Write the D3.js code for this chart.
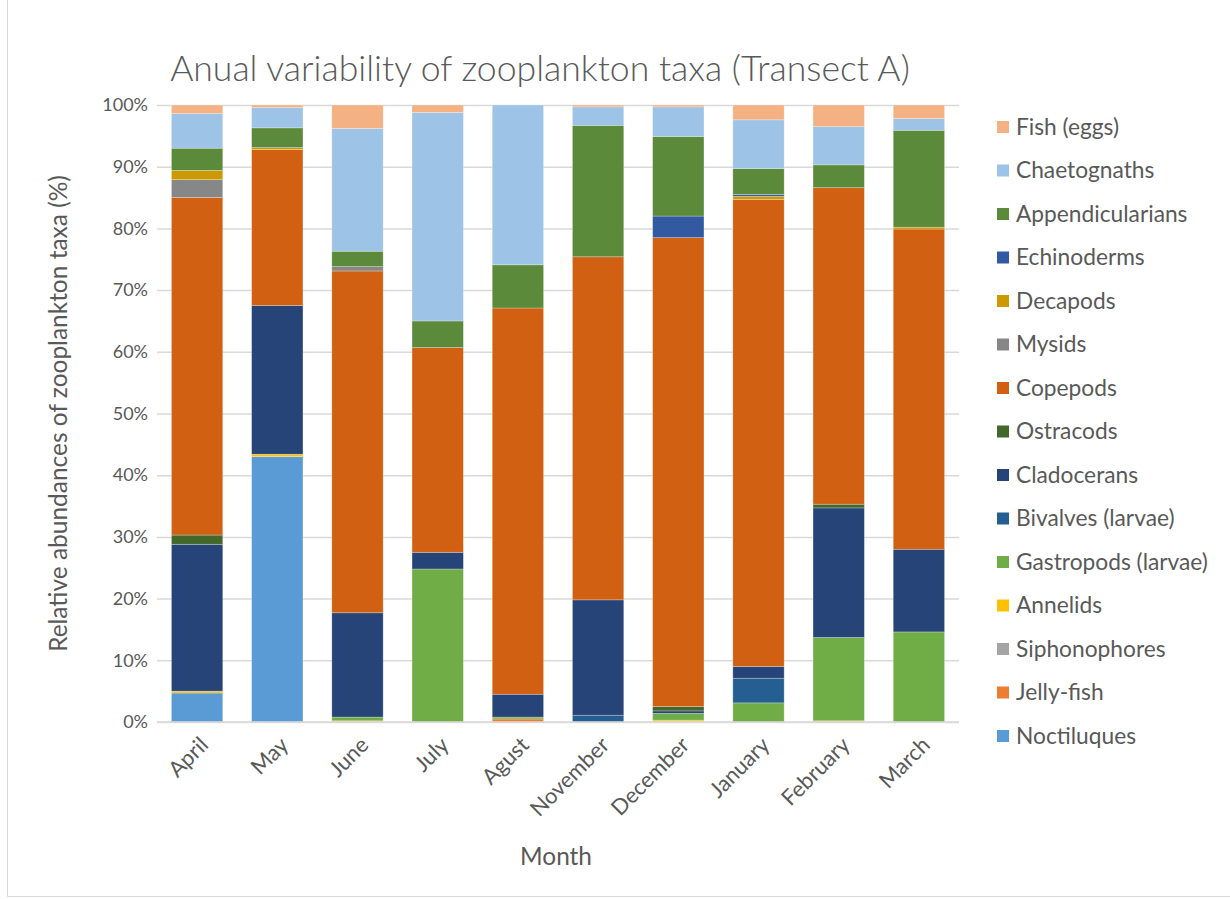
<!DOCTYPE html>
<html>
<head>
<meta charset="utf-8">
<script src="https://cdn.jsdelivr.net/npm/d3@7"></script>
<style>
  html, body { margin: 0; padding: 0; background: #fff; }
  svg { display: block; }
  text { font-family: Lato, "Open Sans", sans-serif; fill: #595959; }
</style>
</head>
<body>
<svg id="chart" width="1230" height="899"></svg>
<script>
// Months sampled along the transect
const months = ["April", "May", "June", "July", "Agust", "November", "December", "January", "February", "March"];

// Taxa, stacked bottom to top
const taxa = ["Noctiluques", "Jelly-fish", "Siphonophores", "Annelids", "Gastropods (larvae)",
  "Bivalves (larvae)", "Cladocerans", "Ostracods", "Copepods", "Mysids", "Decapods",
  "Echinoderms", "Appendicularians", "Chaetognaths", "Fish (eggs)"];

// Relative abundance (%) per month, one array per taxon
const noctiluques      = [4.7, 43.0, 0,    0,    0,    0,    0,    0,    0,    0];
const jellyFish        = [0,   0,    0,    0,    0.5,  0,    0,    0,    0,    0];
const siphonophores    = [0,   0,    0,    0,    0,    0,    0,    0,    0,    0];
const annelids         = [0.3, 0.4,  0.2,  0,    0,    0,    0.3,  0,    0.2,  0];
const gastropods       = [0,   0,    0.6,  24.8, 0.3,  0,    1.1,  3.1,  13.5, 14.6];
const bivalves         = [0,   0,    0,    0,    0,    1.1,  0,    4.0,  0,    0];
const cladocerans      = [23.8, 24.1, 16.9, 2.7, 3.7,  18.7, 0.4,  1.9,  21.0, 13.4];
const ostracods        = [1.5, 0,    0,    0,    0,    0,    0.7,  0,    0.6,  0];
const copepods         = [54.7, 25.3, 55.4, 33.2, 62.6, 55.6, 76.0, 75.7, 51.3, 51.9];
const mysids           = [2.9, 0,    0.7,  0,    0,    0,    0,    0,    0,    0];
const decapods         = [1.5, 0.3,  0,    0,    0,    0,    0,    0.5,  0,    0.3];
const echinoderms      = [0,   0,    0,    0,    0,    0,    3.5,  0.3,  0,    0];
const appendicularians = [3.6, 3.2,  2.5,  4.3,  7.0,  21.3, 12.9, 4.2,  3.7,  15.7];
const chaetognaths     = [5.6, 3.3,  19.9, 33.8, 25.9, 3.0,  4.8,  7.9,  6.2,  1.9];
const fishEggs         = [1.4, 0.4,  3.8,  1.2,  0,    0.3,  0.3,  2.4,  3.5,  2.2];

const yTicks = [0, 0.1, 0.2, 0.3, 0.4, 0.5, 0.6, 0.7, 0.8, 0.9, 1];

const seriesValues = [noctiluques, jellyFish, siphonophores, annelids, gastropods, bivalves,
  cladocerans, ostracods, copepods, mysids, decapods, echinoderms, appendicularians,
  chaetognaths, fishEggs];

const colors = ["#5B9BD5", "#ED7D31", "#A5A5A5", "#FFC000", "#70AD47", "#255E91",
  "#264478", "#43682B", "#D26012", "#878787", "#CC9900", "#335AA1", "#5B8A3A",
  "#9DC3E6", "#F4B183"];

// Build one row per month for d3.stack
const rows = months.map((m, i) => {
  const r = { month: m };
  taxa.forEach((t, j) => { r[t] = seriesValues[j][i]; });
  return r;
});

const stacked = d3.stack().keys(taxa).offset(d3.stackOffsetExpand)(rows);
const color = d3.scaleOrdinal().domain(taxa).range(colors);

const svg = d3.select("#chart");
const plot = { left: 157, right: 959, top: 105, bottom: 722 };

const x = d3.scaleBand().domain(months).range([plot.left, plot.right]).paddingInner(0.36).paddingOuter(0.18);
const y = d3.scaleLinear().domain([0, 1]).range([plot.bottom, plot.top]);

// Scale a text's font size so its rendered length equals `width`
function fitSize(sel, width) {
  const fs = parseFloat(sel.style("font-size"));
  const w = sel.node().getComputedTextLength();
  return fs * width / w;
}

// Chart frame
svg.append("rect").attr("x", 7.5).attr("y", -2).attr("width", 1240).attr("height", 898.5)
  .attr("fill", "none").attr("stroke", "#d9d9d9").attr("stroke-width", 1);

// Title
const title = svg.append("text").attr("x", 540).attr("y", 81).attr("text-anchor", "middle")
  .style("font-size", "31px").style("font-weight", 300)
  .text("Anual variability of zooplankton taxa (Transect A)");
title.style("font-size", fitSize(title, 740) + "px");

// Gridlines and y axis labels
const yAxis = d3.axisLeft(y).tickValues(yTicks).tickFormat(d3.format(".0%"))
  .tickSize(-(plot.right - plot.left)).tickPadding(9);
const gy = svg.append("g").attr("transform", `translate(${plot.left},0)`).call(yAxis);
gy.select(".domain").remove();
gy.selectAll(".tick line").attr("stroke", "#d9d9d9").attr("stroke-width", 1.5);
gy.selectAll(".tick text").style("font-size", "18px").style("fill", "#595959")
  .style("font-family", "Lato, 'Open Sans', sans-serif");

// Stacked bars
svg.append("g").selectAll("g").data(stacked).join("g")
  .attr("fill", d => color(d.key))
  .selectAll("rect").data(d => d).join("rect")
  .attr("x", d => x(d.data.month))
  .attr("width", x.bandwidth())
  .attr("y", d => y(d[1]))
  .attr("height", d => Math.max(0, y(d[0]) - y(d[1])))
  .attr("stroke", "rgba(255,255,255,0.35)").attr("stroke-width", 0.75);

// Category axis baseline
svg.append("line").attr("x1", plot.left).attr("x2", plot.right)
  .attr("y1", plot.bottom).attr("y2", plot.bottom)
  .attr("stroke", "#d9d9d9").attr("stroke-width", 1.5);

// Month labels, rotated
const monthLabels = svg.append("g").selectAll("text").data(months).join("text")
  .attr("transform", d => `translate(${x(d) + x.bandwidth() / 2 + 7},${plot.bottom + 19}) rotate(-45)`)
  .attr("text-anchor", "end").attr("dy", "0.35em")
  .style("font-size", "18px")
  .text(d => d);
const monthSize = fitSize(monthLabels.filter(d => d === "November"), 101);
monthLabels.style("font-size", monthSize + "px");

// Axis titles
const xTitle = svg.append("text").attr("x", 556).attr("y", 865).attr("text-anchor", "middle")
  .style("font-size", "22px").text("Month");
xTitle.style("font-size", fitSize(xTitle, 72) + "px");
const yTitle = svg.append("text").attr("transform", `translate(67,${(plot.top + plot.bottom) / 2}) rotate(-90)`)
  .attr("text-anchor", "middle").style("font-size", "20px")
  .text("Relative abundances of zooplankton taxa (%)");
yTitle.style("font-size", fitSize(yTitle, 477) + "px");

// Legend, top entry is the top of the stack
const legendItems = taxa.slice().reverse();
const lg = svg.append("g").selectAll("g").data(legendItems).join("g")
  .attr("transform", (d, i) => `translate(997,${127 + i * 43.5})`);
lg.append("rect").attr("x", 0).attr("y", -6).attr("width", 12).attr("height", 12)
  .attr("fill", d => color(d));
const legendText = lg.append("text").attr("x", 19).attr("dy", "0.35em").style("font-size", "18px").text(d => d);
const legendSize = fitSize(legendText.filter(d => d === "Gastropods (larvae)"), 192);
legendText.style("font-size", legendSize + "px");
</script>
</body>
</html>
